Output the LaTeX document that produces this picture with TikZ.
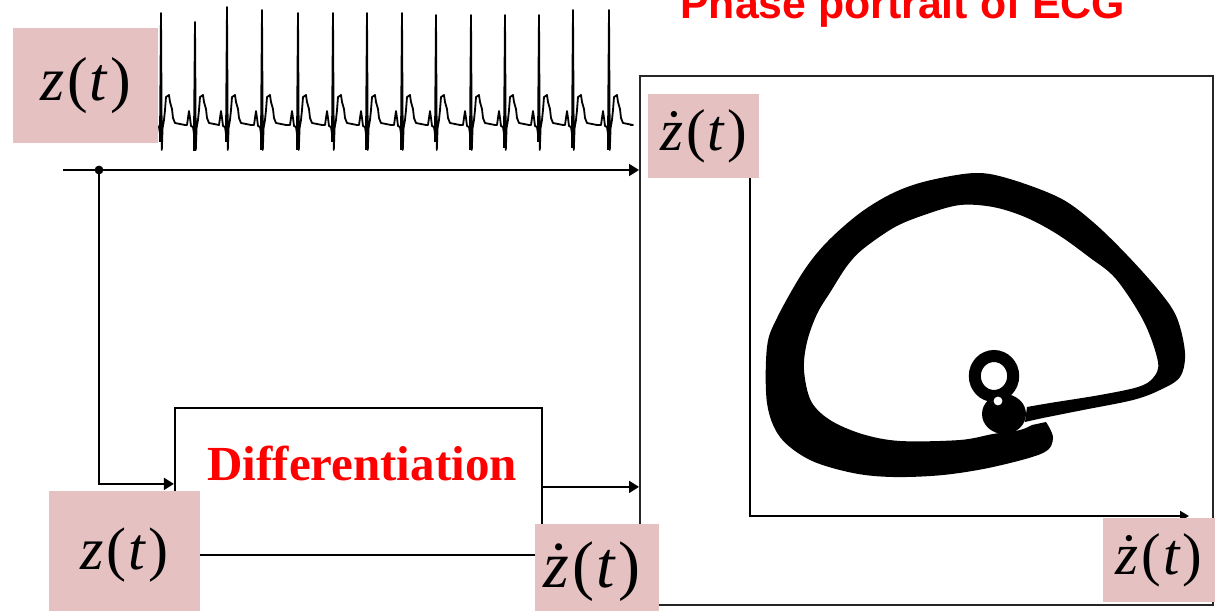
\documentclass[tikz,border=0pt]{standalone}
\usepackage{fontspec}
\setmainfont{Liberation Serif}
\newfontfamily\titlefont{Liberation Sans}
\usetikzlibrary{arrows.meta}
\definecolor{labpink}{RGB}{230,193,193}
\definecolor{hotred}{RGB}{255,0,0}
\tikzset{
  lab/.style={fill=labpink, inner sep=0pt, anchor=center},
  conn/.style={line width=1pt, -{Triangle[length=5pt,width=6pt]}},
  boxline/.style={draw, line width=1.1pt, inner sep=0pt},
}
\newcommand{\myzt}{{\itshape z}\kern0.05em(\kern0.03em{\itshape t}\kern0.05em)}
\newcommand{\myzdt}{{\itshape ż}\kern0.05em(\kern0.03em{\itshape t}\kern0.05em)}
\begin{document}
\begin{tikzpicture}[x=0.5pt,y=-0.5pt]
\useasboundingbox (0,0) rectangle (1223,611);
\clip (0,0) rectangle (1223,611);

% title
\node[anchor=base west, inner sep=0pt, text=hotred, font=\titlefont\bfseries\fontsize{21.4pt}{24pt}\selectfont] (title) at (680,18) {Phase portrait of ECG};

% ECG trace
\draw[line width=0.9pt, line join=round] (158,125)
  \foreach \x/\t in {161/13,195/22,227/7,262/10,298/13,333/13,367/13,402/13,436/15,471/15,505/15,539/15,573/10,609/10}{
    -- ({\x-8},125) -- ({\x-7},118) -- ({\x-6},111) -- ({\x-5},118) -- ({\x-4},126)
    -- ({\x-2},127) -- ({\x-1},134) -- (\x,\t) -- ({\x+0.8},150) -- ({\x+1.6},128)
    -- ({\x+3},120) -- ({\x+4},110) -- ({\x+5},97) -- ({\x+8},95) -- ({\x+9},102)
    -- ({\x+11},109) -- ({\x+12},118) -- ({\x+14},123) -- ({\x+24},125)
  } -- (630,125);
\foreach \x/\b in {161/142,195/151,227/142,262/150,298/150,333/142,367/150,402/150,436/142,471/150,505/148,539/142,573/148,609/150}{
  \draw[line width=1.6pt] ({\x-0.3},116) -- ({\x-0.3},\b);
}

% phase portrait box and axes
\node[draw, line width=1pt, draw=black!85, inner sep=0pt, minimum width=286.5pt, minimum height=264.5pt] (phase) at (926.5,340.5) {};
\coordinate (ytop) at (750,105);
\coordinate (orig) at (750,516);
\coordinate (xend) at (1189,516);
\draw[line width=1pt, -{Triangle[length=4.5pt,width=5pt]}] (ytop) -- (orig) -- (xend);

% phase curve (thick band)
\fill[black] plot[smooth, tension=0.55] coordinates {(1046,422) (1053,438) (1043,453) (993,467) (943,475) (893,477) (853,473) (810,460) (780,437) (767,403) (767,347) (777,318) (803,272) (827,242) (860,213) (893,193) (927,181) (975,173) (1010,179) (1060,198) (1093,222) (1127,255) (1160,292) (1177,318) (1185,353) (1180,377) (1160,390) (1133,400) (1083,410) (1043,418) (1025,422)}
  -- plot[smooth, tension=0.55] coordinates {(1027,407) (1050,403) (1100,395) (1138,387) (1153,378) (1158,362) (1144,322) (1116,279) (1089,257) (1057,234) (1025,217) (993,207) (960,205) (927,214) (895,227) (863,249) (847,266) (831,291) (817,314) (807,342) (804,370) (811,401) (830,420) (862,434) (900,441) (960,440) (993,434) (1020,430) (1032,425)} -- cycle;
\draw[line width=6pt] (994,376) ellipse [x radius=9.6pt, y radius=10pt];
\fill (1004,414) ellipse [x radius=11pt, y radius=10pt];
\fill[white] (998,401) circle [radius=2.2pt];

% differentiation block
\node[boxline, minimum width=183.5pt, minimum height=73.5pt] (diff) at (358.5,481.5) {};
\node[anchor=base west, inner sep=0pt, text=hotred, font=\bfseries\fontsize{24.5pt}{28pt}\selectfont] (difftext) at (207,480) {Differentiation};

% connectors
\coordinate (start) at (63,170);
\coordinate (junc) at (99,170);
\draw[conn] (start) -- (start -| phase.west);
\fill (junc) circle [radius=2.2pt];
\draw[conn] (junc) |- ([yshift=-1.2pt]diff.west);
\draw[conn] ([yshift=-2.7pt]diff.east) -- ([yshift=-2.7pt]diff.east -| phase.west);

% labels
\node[lab, minimum width=72.5pt, minimum height=57.5pt, font=\fontsize{31pt}{31pt}\selectfont] (l1) at (85.5,85.5) {\myzt};
\node[lab, minimum width=75.5pt, minimum height=64pt, font=\fontsize{30pt}{30pt}\selectfont] (l2) at (124.5,555) {\myzt};
\node[lab, minimum width=62pt, minimum height=48pt, font=\fontsize{33pt}{33pt}\selectfont] (l3) at (597,572) {\myzdt\kern5pt};
\node[lab, minimum width=55.5pt, minimum height=42pt, font=\fontsize{29.5pt}{29.5pt}\selectfont] (l4) at (703.5,136) {\myzdt};
\node[lab, minimum width=56pt, minimum height=42pt, font=\fontsize{29.5pt}{29.5pt}\selectfont] (l5) at (1159,560) {\myzdt};
\end{tikzpicture}
\end{document}
